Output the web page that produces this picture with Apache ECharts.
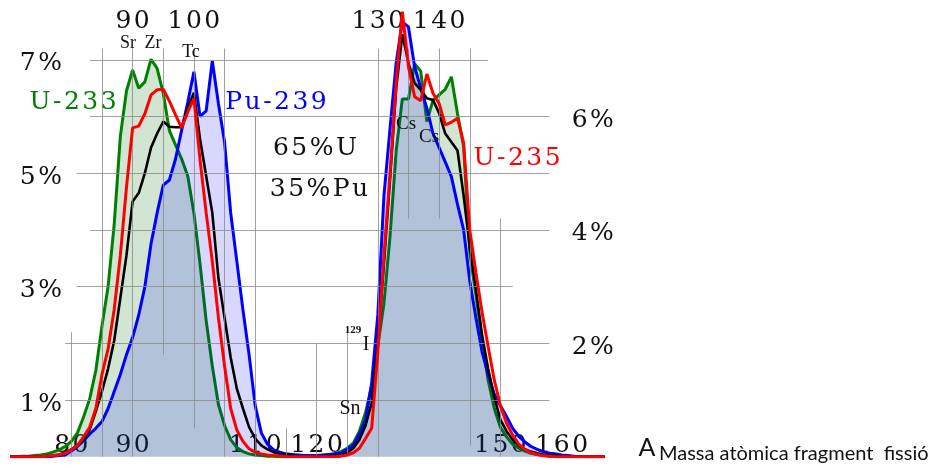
<!DOCTYPE html>
<html>
<head>
<meta charset="utf-8">
<script src="https://cdn.jsdelivr.net/npm/echarts@6/dist/echarts.min.js"></script>
<style>html,body{margin:0;padding:0;background:#fff}#c{width:937px;height:468px}</style>
</head>
<body>
<div id="c"></div>
<script>
// Mass number A of the fission fragment
const massNumbers = [70,71,72,73,74,75,76,77,78,79,80,81,82,83,84,85,86,87,88,89,90,91,92,93,94,95,96,97,98,99,100,101,102,103,104,105,106,107,108,109,110,111,112,113,114,115,116,117,118,119,120,121,122,123,124,125,126,127,128,129,130,131,132,133,134,135,136,137,138,139,140,141,142,143,144,145,146,147,148,149,150,151,152,153,154,155,156,157,158,159,160,161,162,163,164,165,166,167];
// Fission yield (%) per series
const u233 = [0,0,0.01,0.01,0.02,0.03,0.05,0.08,0.12,0.18,0.27,0.42,0.7,1.02,1.52,2.3,3.0,4.1,5.65,6.45,6.82,6.5,6.61,7.01,6.85,6.41,5.75,5.5,5.25,4.95,4.3,3.4,2.4,1.6,0.92,0.55,0.3,0.16,0.09,0.05,0.03,0.02,0.01,0.01,0,0,0,0,0,0,0.01,0.02,0.03,0.05,0.09,0.15,0.24,0.45,0.78,1.25,1.95,2.7,3.9,5.4,6.31,6.31,6.93,6.8,5.91,6.29,6.38,6.48,6.7,6.05,5.47,3.6,2.85,2.05,1.35,0.85,0.52,0.35,0.22,0.15,0.1,0.06,0.04,0.02,0.01,0,0,0,0,0,0,0,0,0];
const u235 = [0,0,0,0,0,0,0.01,0.02,0.03,0.06,0.12,0.2,0.35,0.52,0.85,1.45,1.9,2.6,3.55,4.75,5.8,5.83,6.05,6.38,6.47,6.48,6.27,6.03,5.8,6.08,6.32,5.23,4.3,3.45,2.45,1.6,0.85,0.47,0.27,0.14,0.08,0.05,0.03,0.02,0.01,0,0,0,0,0,0,0,0,0,0.01,0.03,0.07,0.15,0.32,0.5,1.85,3.55,5.0,6.6,7.85,6.88,6.35,6.28,6.75,6.41,6.23,5.85,5.9,5.97,5.53,4.0,3.25,2.55,1.94,1.35,0.9,0.59,0.38,0.22,0.13,0.07,0.04,0.02,0.01,0,0,0,0,0,0,0,0,0];
const mix = [0,0,0,0,0,0,0.01,0.02,0.04,0.07,0.13,0.2,0.3,0.48,0.8,1.15,1.55,2.05,2.8,3.55,4.5,4.65,5.0,5.45,5.7,5.91,5.82,5.81,5.81,6.15,6.42,5.6,4.95,4.3,3.15,2.45,1.75,1.2,0.85,0.52,0.32,0.2,0.13,0.08,0.05,0.04,0.02,0.01,0,0,0,0.01,0.01,0.02,0.03,0.07,0.15,0.3,0.55,0.95,2.0,3.4,4.9,6.5,7.45,6.94,6.59,6.47,6.32,6.29,6.06,5.7,5.55,5.4,4.6,3.7,2.95,2.15,1.55,1.05,0.65,0.45,0.3,0.2,0.13,0.09,0.06,0.04,0.03,0.02,0.01,0,0,0,0,0,0,0];
const pu239 = [0,0,0,0,0,0,0,0.01,0.02,0.03,0.1,0.18,0.28,0.4,0.5,0.62,0.85,1.15,1.45,1.8,2.1,2.5,3.0,3.75,4.3,4.79,4.88,5.25,5.76,6.25,6.79,6.0,6.1,6.98,6.23,5.55,4.3,3.45,2.59,1.8,0.9,0.42,0.22,0.12,0.08,0.05,0.04,0.03,0.02,0.02,0.02,0.03,0.04,0.05,0.07,0.13,0.2,0.4,0.65,1.3,2.5,4.6,5.8,6.95,7.67,7.58,6.88,6.5,6.15,5.7,5.45,5.2,4.94,4.45,4.0,3.1,2.45,1.85,1.45,1.1,0.9,0.71,0.5,0.36,0.26,0.18,0.13,0.09,0.06,0.05,0.03,0.02,0.01,0,0,0,0,0];
// Tick labels
const bottomTicks = [80, 90, 110, 120, 150, 160];
const topTicks = [90, 100, 130, 140];
const leftTicks = [1, 3, 5, 7];
const rightTicks = [2, 4, 6];
// Grid line values
const hGridValues = [1, 2, 3, 4, 5, 6, 7];
const vGridValues = [80, 85, 90, 95, 100, 105, 110, 115, 120, 125, 130, 135, 140, 145, 150];

// --- styling / layout ---
const hGridExtent = {1:[79,158],2:[79,158],3:[80.9,152],4:[83,158],5:[80.9,158],6:[83,158],7:[83,148]};
const vGridExtent = {80:[0,2.2],85:[0,7.2],90:[0,7.2],95:[1.8,7.2],100:[0.5,7.2],105:[0,7.2],110:[0,6.0],115:[0,0.5],120:[0,2.0],125:[0,2.2],130:[0,7.2],135:[4.2,7.2],140:[4.2,7.2],145:[0.2,7.2],150:[0,4.2]};

const pair = (ys) => massNumbers.map((a, i) => [a, ys[i]]);
const sp = (s) => s.split('').join('\u200A');
const serif = "'DejaVu Serif'";
const gridLines = [];
hGridValues.forEach(v => { const e = hGridExtent[v]; gridLines.push([{coord:[e[0], v]}, {coord:[e[1], v]}]); });
vGridValues.forEach(v => { const e = vGridExtent[v]; gridLines.push([{coord:[v, e[0]]}, {coord:[v, e[1]]}]); });

const chart = echarts.init(document.getElementById('c'), null, {renderer: 'canvas'});
const txt = (text, x, y, color, font, align) => ({
  type: 'text', x: x, y: y, z: 100,
  style: {text: text, fill: color, font: font, align: align || 'center', verticalAlign: 'middle'}
});
chart.setOption({
  backgroundColor: '#fff',
  animation: false,
  grid: {left: 10, right: 329.3, top: 3.1, bottom: 11.3},
  xAxis: [
    {type: 'value', position: 'bottom', min: 70, max: 167.5, interval: 10,
     axisLine: {show: false}, axisTick: {show: false}, splitLine: {show: false},
     axisLabel: {inside: true, margin: -1, showMinLabel: true, showMaxLabel: false,
       color: '#111', fontFamily: serif, fontSize: 25,
       formatter: v => bottomTicks.includes(v) ? sp(String(v)) : ''}},
    {type: 'value', position: 'top', min: 70, max: 167.5, interval: 10,
     axisLine: {show: false}, axisTick: {show: false}, splitLine: {show: false},
     axisLabel: {inside: true, margin: 6, color: '#111', fontFamily: serif, fontSize: 25,
       formatter: v => topTicks.includes(v) ? sp(String(v)) : ''}}
  ],
  yAxis: [
    {type: 'value', position: 'left', min: 0, max: 8, interval: 1,
     axisLine: {show: false}, axisTick: {show: false}, splitLine: {show: false},
     axisLabel: {inside: true, margin: 52, align: 'right', verticalAlign: 'top', lineHeight: 8,
       color: '#111', fontFamily: serif, fontSize: 25,
       formatter: v => leftTicks.includes(v) ? v + '\u200A%' : ''}},
    {type: 'value', position: 'right', min: 0, max: 8, interval: 1,
     axisLine: {show: false}, axisTick: {show: false}, splitLine: {show: false},
     axisLabel: {inside: true, margin: 36, align: 'left', verticalAlign: 'top', lineHeight: 8,
       color: '#111', fontFamily: serif, fontSize: 25,
       formatter: v => rightTicks.includes(v) ? v + '\u200A%' : ''}}
  ],
  series: [
    {type: 'line', name: 'grid', data: [], z: 1, silent: true,
     markLine: {silent: true, symbol: 'none', label: {show: false}, animation: false,
       lineStyle: {color: '#8a8a8a', width: 1, type: 'solid', opacity: 0.8}, data: gridLines}},
    {type: 'line', name: 'U-233', data: pair(u233), z: 2, showSymbol: false, smooth: false,
     lineStyle: {color: '#008000', width: 3}, itemStyle: {color: '#008000'},
     areaStyle: {color: 'rgba(0,110,0,0.25)'}},
    {type: 'line', name: 'Pu-239', data: pair(pu239), z: 3, showSymbol: false, smooth: false,
     lineStyle: {color: '#0000ff', width: 3}, itemStyle: {color: '#0000ff'},
     areaStyle: {color: 'rgba(0,0,255,0.22)'}},
    {type: 'line', name: '65%U 35%Pu', data: pair(mix), z: 4, showSymbol: false, smooth: false,
     lineStyle: {color: '#000000', width: 2.6}, itemStyle: {color: '#000'}},
    {type: 'line', name: 'U-235', data: pair(u235), z: 5, showSymbol: false, smooth: false,
     lineStyle: {color: '#ff0000', width: 3}, itemStyle: {color: '#ff0000'}}
  ],
  graphic: [
    txt(sp('U-233'), 73, 102, '#008000', "25px 'DejaVu Serif'"),
    txt(sp('Pu-239'), 276, 102, '#0000ff', "25px 'DejaVu Serif'"),
    txt(sp('U-235'), 517, 158, '#ff0000', "25px 'DejaVu Serif'"),
    txt(sp('65%U'), 315, 148, '#111', "25px 'DejaVu Serif'"),
    txt(sp('35%Pu'), 319, 189, '#111', "25px 'DejaVu Serif'"),
    txt('Sr', 128, 43, '#111', "18px 'Liberation Serif'"),
    txt('Zr', 153, 43, '#111', "18px 'Liberation Serif'"),
    txt('Tc', 191, 52, '#111', "18px 'Liberation Serif'"),
    txt('Cs', 406, 124, '#111', "19px 'Liberation Serif'"),
    txt('Cs', 429, 137, '#111', "19px 'Liberation Serif'"),
    txt('129', 353, 330, '#111', "bold 11px 'Liberation Serif'"),
    txt('I', 366, 345, '#111', "20px 'Liberation Serif'"),
    txt('Sn', 350, 409, '#111', "20px 'Liberation Serif'"),
    txt('A', 647, 448, '#111', "25px 'Lato'"),
    txt('Massa atòmica fragment  fissió', 659, 454, '#111', "20px 'Lato'", 'left')
  ]
});
</script>
</body>
</html>
